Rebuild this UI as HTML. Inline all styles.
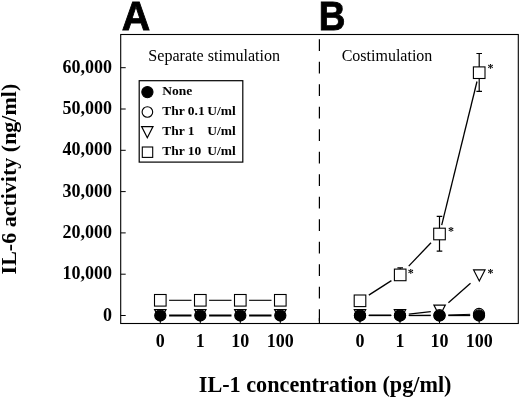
<!DOCTYPE html>
<html><head><meta charset="utf-8"><title>IL-6 activity</title>
<style>html,body{margin:0;padding:0;background:#fff}svg{display:block}text{font-family:"Liberation Serif",serif;fill:#000}.b{font-weight:bold}.s{font-family:"Liberation Sans",sans-serif;font-weight:bold}</style></head><body>
<svg width="520" height="397" viewBox="0 0 520 397">
<rect width="520" height="397" fill="#fff"/>
<rect x="120.7" y="34.5" width="397.59999999999997" height="289.0" fill="none" stroke="#000" stroke-width="1.1"/>
<line x1="120.7" y1="315.5" x2="125.7" y2="315.5" stroke="#000" stroke-width="1"/>
<text class="b" x="111.9" y="320.5" font-size="18" text-anchor="end">0</text>
<line x1="120.7" y1="274.2" x2="125.7" y2="274.2" stroke="#000" stroke-width="1"/>
<text class="b" x="111.9" y="279.2" font-size="18" text-anchor="end">10,000</text>
<line x1="120.7" y1="232.9" x2="125.7" y2="232.9" stroke="#000" stroke-width="1"/>
<text class="b" x="111.9" y="237.9" font-size="18" text-anchor="end">20,000</text>
<line x1="120.7" y1="191.6" x2="125.7" y2="191.6" stroke="#000" stroke-width="1"/>
<text class="b" x="111.9" y="196.6" font-size="18" text-anchor="end">30,000</text>
<line x1="120.7" y1="150.3" x2="125.7" y2="150.3" stroke="#000" stroke-width="1"/>
<text class="b" x="111.9" y="155.3" font-size="18" text-anchor="end">40,000</text>
<line x1="120.7" y1="109.0" x2="125.7" y2="109.0" stroke="#000" stroke-width="1"/>
<text class="b" x="111.9" y="114.0" font-size="18" text-anchor="end">50,000</text>
<line x1="120.7" y1="67.7" x2="125.7" y2="67.7" stroke="#000" stroke-width="1"/>
<text class="b" x="111.9" y="72.7" font-size="18" text-anchor="end">60,000</text>
<line x1="160.3" y1="323.5" x2="160.3" y2="318.5" stroke="#000" stroke-width="1"/>
<text class="b" x="160.3" y="347.3" font-size="18" text-anchor="middle">0</text>
<line x1="200.3" y1="323.5" x2="200.3" y2="318.5" stroke="#000" stroke-width="1"/>
<text class="b" x="200.3" y="347.3" font-size="18" text-anchor="middle">1</text>
<line x1="240.3" y1="323.5" x2="240.3" y2="318.5" stroke="#000" stroke-width="1"/>
<text class="b" x="240.3" y="347.3" font-size="18" text-anchor="middle">10</text>
<line x1="280.3" y1="323.5" x2="280.3" y2="318.5" stroke="#000" stroke-width="1"/>
<text class="b" x="280.3" y="347.3" font-size="18" text-anchor="middle">100</text>
<line x1="360" y1="323.5" x2="360" y2="318.5" stroke="#000" stroke-width="1"/>
<text class="b" x="360" y="347.3" font-size="18" text-anchor="middle">0</text>
<line x1="400" y1="323.5" x2="400" y2="318.5" stroke="#000" stroke-width="1"/>
<text class="b" x="400" y="347.3" font-size="18" text-anchor="middle">1</text>
<line x1="439.5" y1="323.5" x2="439.5" y2="318.5" stroke="#000" stroke-width="1"/>
<text class="b" x="439.5" y="347.3" font-size="18" text-anchor="middle">10</text>
<line x1="479.2" y1="323.5" x2="479.2" y2="318.5" stroke="#000" stroke-width="1"/>
<text class="b" x="479.2" y="347.3" font-size="18" text-anchor="middle">100</text>
<line x1="319.4" y1="39.2" x2="319.4" y2="323.5" stroke="#000" stroke-width="1.2" stroke-dasharray="11.7 10.8"/>
<line x1="319.4" y1="318" x2="319.4" y2="323.5" stroke="#000" stroke-width="1.2"/>
<text class="s" transform="translate(121.8 30.1) scale(0.95 1)" font-size="41.5" stroke="#000" stroke-width="0.9">A</text>
<text class="s" transform="translate(318.8 30.1) scale(0.89 1)" font-size="41.5" stroke="#000" stroke-width="0.9">B</text>
<text x="148.3" y="61.3" font-size="16.1">Separate stimulation</text>
<text x="341.7" y="60.8" font-size="16">Costimulation</text>
<text class="b" x="198.8" y="391.5" font-size="22.2">IL-1 concentration (pg/ml)</text>
<text class="b" transform="translate(16.4 274.4) rotate(-90)" font-size="22">IL-6 activity (ng/ml)</text>
<rect x="139.2" y="80.7" width="103.6" height="81.4" fill="#fff" stroke="#000" stroke-width="1.2"/>
<circle cx="147.4" cy="92.1" r="5.6" fill="#000" stroke="#000" stroke-width="1.1"/>
<circle cx="147.4" cy="112.0" r="5.3" fill="#fff" stroke="#000" stroke-width="1.1"/>
<path d="M141.6 126.6H153.0L147.3 137.7Z" fill="#fff" stroke="#000" stroke-width="1.2" stroke-linejoin="miter"/>
<rect x="142.3" y="147.0" width="10.4" height="10.4" fill="#fff" stroke="#000" stroke-width="1.1"/>
<text class="b" x="162.2" y="95.4" font-size="13.5">None</text>
<text class="b" x="162.2" y="115.3" font-size="13.5">Thr 0.1</text>
<text class="b" x="207.3" y="115.3" font-size="13.5">U/ml</text>
<text class="b" x="162.2" y="135.2" font-size="13.5">Thr 1</text>
<text class="b" x="207.3" y="135.2" font-size="13.5">U/ml</text>
<text class="b" x="162.2" y="155.1" font-size="13.5">Thr 10</text>
<text class="b" x="207.3" y="155.1" font-size="13.5">U/ml</text>
<line x1="169.1" y1="300.3" x2="191.5" y2="300.3" stroke="#000" stroke-width="1.1"/>
<line x1="169.1" y1="315.5" x2="191.5" y2="315.5" stroke="#000" stroke-width="2.0"/>
<line x1="209.1" y1="300.3" x2="231.5" y2="300.3" stroke="#000" stroke-width="1.1"/>
<line x1="209.1" y1="315.5" x2="231.5" y2="315.5" stroke="#000" stroke-width="2.0"/>
<line x1="249.1" y1="300.3" x2="271.5" y2="300.3" stroke="#000" stroke-width="1.1"/>
<line x1="249.1" y1="315.5" x2="271.5" y2="315.5" stroke="#000" stroke-width="2.0"/>
<rect x="154.5" y="294.5" width="11.6" height="11.6" fill="#fff" stroke="#000" stroke-width="1.1"/>
<rect x="194.5" y="294.5" width="11.6" height="11.6" fill="#fff" stroke="#000" stroke-width="1.1"/>
<rect x="234.5" y="294.5" width="11.6" height="11.6" fill="#fff" stroke="#000" stroke-width="1.1"/>
<rect x="274.5" y="294.5" width="11.6" height="11.6" fill="#fff" stroke="#000" stroke-width="1.1"/>
<path d="M154.6 309.6H166.0L160.3 320.7Z" fill="#fff" stroke="#000" stroke-width="1.2" stroke-linejoin="miter"/>
<path d="M194.6 309.6H206.0L200.3 320.7Z" fill="#fff" stroke="#000" stroke-width="1.2" stroke-linejoin="miter"/>
<path d="M234.6 309.6H246.0L240.3 320.7Z" fill="#fff" stroke="#000" stroke-width="1.2" stroke-linejoin="miter"/>
<path d="M274.6 309.6H286.0L280.3 320.7Z" fill="#fff" stroke="#000" stroke-width="1.2" stroke-linejoin="miter"/>
<circle cx="160.3" cy="315.5" r="5.6" fill="#000" stroke="#000" stroke-width="1.1"/>
<circle cx="200.3" cy="315.5" r="5.6" fill="#000" stroke="#000" stroke-width="1.1"/>
<circle cx="240.3" cy="315.5" r="5.6" fill="#000" stroke="#000" stroke-width="1.1"/>
<circle cx="280.3" cy="315.5" r="5.6" fill="#000" stroke="#000" stroke-width="1.1"/>
<line x1="368.8" y1="295.1" x2="391.4" y2="280.6" stroke="#000" stroke-width="1.3"/>
<line x1="368.8" y1="315.2" x2="391.2" y2="315.2" stroke="#000" stroke-width="1.3"/>
<line x1="368.8" y1="315.5" x2="391.2" y2="315.5" stroke="#000" stroke-width="1.0"/>
<line x1="368.8" y1="315.5" x2="391.2" y2="315.5" stroke="#000" stroke-width="1.3"/>
<line x1="408.7" y1="266.1" x2="431.0" y2="242.8" stroke="#000" stroke-width="1.3"/>
<line x1="408.8" y1="314.2" x2="430.8" y2="311.6" stroke="#000" stroke-width="1.3"/>
<line x1="408.8" y1="315.5" x2="430.7" y2="315.3" stroke="#000" stroke-width="1.0"/>
<line x1="408.8" y1="315.5" x2="430.7" y2="315.5" stroke="#000" stroke-width="1.3"/>
<line x1="441.7" y1="225.2" x2="477.0" y2="81.5" stroke="#000" stroke-width="1.3"/>
<line x1="448.4" y1="302.8" x2="470.5" y2="283.2" stroke="#000" stroke-width="1.3"/>
<line x1="448.3" y1="315.0" x2="470.2" y2="314.3" stroke="#000" stroke-width="1.0"/>
<line x1="448.3" y1="315.5" x2="470.2" y2="315.5" stroke="#000" stroke-width="1.3"/>
<path d="M479.2 53.5V91.4M476.4 53.5h5.6M476.4 91.4h5.6" fill="none" stroke="#000" stroke-width="1.2"/>
<path d="M439.5 216.4V251.2M436.7 216.4h5.6M436.7 251.2h5.6" fill="none" stroke="#000" stroke-width="1.2"/>
<path d="M400.2 267.9V275M397.4 267.9h5.6M397.4 275h5.6" fill="none" stroke="#000" stroke-width="1.2"/>
<rect x="354.2" y="295.0" width="11.6" height="11.6" fill="#fff" stroke="#000" stroke-width="1.1"/>
<rect x="394.4" y="269.1" width="11.6" height="11.6" fill="#fff" stroke="#000" stroke-width="1.1"/>
<rect x="433.7" y="228.2" width="11.6" height="11.6" fill="#fff" stroke="#000" stroke-width="1.1"/>
<rect x="473.4" y="66.9" width="11.6" height="11.6" fill="#fff" stroke="#000" stroke-width="1.1"/>
<path d="M354.3 309.7H365.7L360.0 320.8Z" fill="#fff" stroke="#000" stroke-width="1.2" stroke-linejoin="miter"/>
<path d="M394.3 309.7H405.7L400.0 320.8Z" fill="#fff" stroke="#000" stroke-width="1.2" stroke-linejoin="miter"/>
<path d="M433.9 305.1H445.3L439.6 316.2Z" fill="#fff" stroke="#000" stroke-width="1.2" stroke-linejoin="miter"/>
<path d="M473.6 269.9H485.0L479.3 281.0Z" fill="#fff" stroke="#000" stroke-width="1.2" stroke-linejoin="miter"/>
<circle cx="360" cy="315.5" r="5.6" fill="#fff" stroke="#000" stroke-width="1.1"/>
<circle cx="400" cy="315.5" r="5.6" fill="#fff" stroke="#000" stroke-width="1.1"/>
<circle cx="439.5" cy="315.3" r="5.6" fill="#fff" stroke="#000" stroke-width="1.1"/>
<circle cx="479" cy="314.0" r="5.6" fill="#fff" stroke="#000" stroke-width="1.1"/>
<circle cx="360" cy="315.5" r="5.6" fill="#000" stroke="#000" stroke-width="1.1"/>
<circle cx="400" cy="315.5" r="5.6" fill="#000" stroke="#000" stroke-width="1.1"/>
<circle cx="439.5" cy="315.5" r="5.6" fill="#000" stroke="#000" stroke-width="1.1"/>
<circle cx="479" cy="315.5" r="5.6" fill="#000" stroke="#000" stroke-width="1.1"/>
<text class="b" x="490.6" y="72.2" font-size="12" text-anchor="middle" fill="#222">*</text>
<text class="b" x="451.0" y="235.0" font-size="12" text-anchor="middle" fill="#222">*</text>
<text class="b" x="410.7" y="277.0" font-size="12" text-anchor="middle" fill="#222">*</text>
<text class="b" x="490.6" y="276.5" font-size="12" text-anchor="middle" fill="#222">*</text>
</svg></body></html>
